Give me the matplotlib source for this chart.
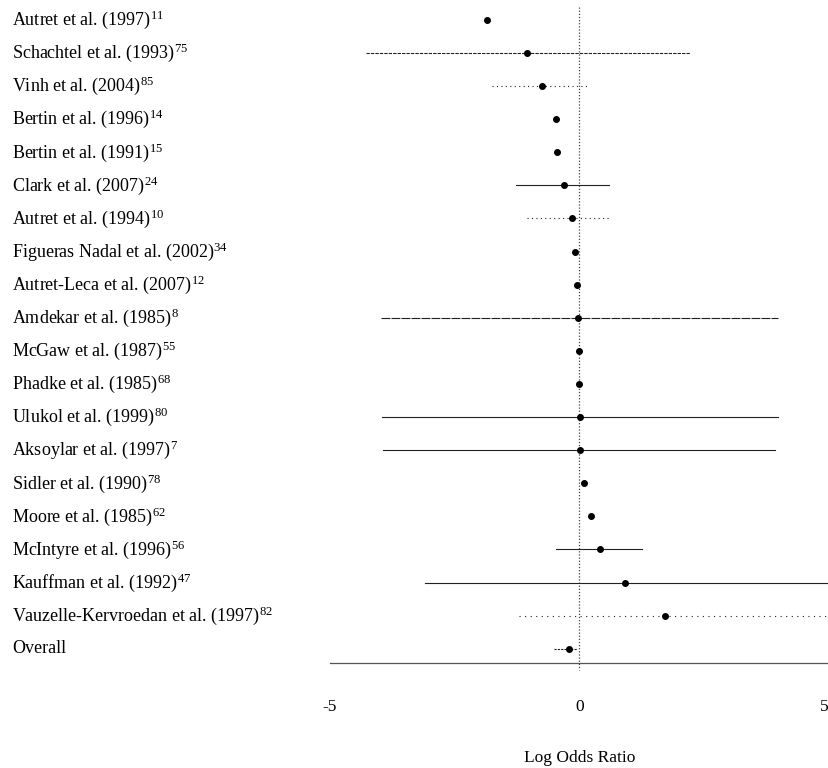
import numpy as np
import matplotlib
matplotlib.use("Agg")
import matplotlib.pyplot as plt
import matplotlib.transforms as mtransforms

plt.rcParams['font.family'] = ['Liberation Serif', 'DejaVu Serif']
plt.rcParams['mathtext.fontset'] = 'custom'
plt.rcParams['mathtext.rm'] = 'Liberation Serif'
plt.rcParams['mathtext.default'] = 'rm'

# study labels and reference numbers
studies = ["Autret et al. (1997)", "Schachtel et al. (1993)", "Vinh et al. (2004)",
           "Bertin et al. (1996)", "Bertin et al. (1991)", "Clark et al. (2007)",
           "Autret et al. (1994)", "Figueras Nadal et al. (2002)", "Autret-Leca et al. (2007)",
           "Amdekar et al. (1985)", "McGaw et al. (1987)", "Phadke et al. (1985)",
           "Ulukol et al. (1999)", "Aksoylar et al. (1997)", "Sidler et al. (1990)",
           "Moore et al. (1985)", "McIntyre et al. (1996)", "Kauffman et al. (1992)",
           "Vauzelle-Kervroedan et al. (1997)", "Overall"]
refs = ["11", "75", "85", "14", "15", "24", "10", "34", "12", "8",
        "55", "68", "80", "7", "78", "62", "56", "47", "82", ""]

# log odds ratio and confidence limits (nan = no interval drawn)
log_or = [-1.86, -1.06, -0.76, -0.48, -0.46, -0.32, -0.16, -0.10, -0.06, -0.04,
          -0.02, 0.00, 0.02, 0.02, 0.10, 0.24, 0.42, 0.92, 1.72, -0.22]
ci_low = [np.nan, -4.28, -1.76, np.nan, np.nan, -1.28, -1.06, np.nan, np.nan, -3.98,
          np.nan, np.nan, -3.96, -3.94, np.nan, np.nan, -0.48, -3.10, -1.22, -0.52]
ci_high = [np.nan, 2.22, 0.18, np.nan, np.nan, 0.60, 0.64, np.nan, np.nan, 3.98,
           np.nan, np.nan, 3.98, 3.92, np.nan, np.nan, 1.26, 5.0, 5.0, -0.05]
line_styles = ['-', (0, (3, 1)), (0, (1, 3)), '-', '-', '-', (0, (1, 3)), '-', '-', (0, (8, 1)),
               '-', '-', '-', '-', '-', '-', '-', '-', (0, (1, 4)), (0, (2, 1))]

fig = plt.figure(figsize=(8.29, 7.68), dpi=100)
ax = fig.add_axes([330 / 829, 1 - 663 / 768, 1 - 330 / 829, (663 - 5) / 768])

n = len(studies)
ys = np.arange(n)

# zero line
ax.plot([0, 0], [-0.4, 19.65], color='#444444', lw=0.9, ls=(0, (1, 1.5)), clip_on=False, zorder=1)

for i in range(n):
    if not np.isnan(ci_low[i]):
        ax.plot([ci_low[i], ci_high[i]], [ys[i], ys[i]], color='#222222', lw=0.8,
                ls=line_styles[i], zorder=2)
    ax.plot(log_or[i], ys[i], marker='o', color='black', markersize=4, zorder=3)

ax.set_xlim(-5, 5)
ax.set_ylim(19.43, -0.45)
ax.set_yticks([])
ax.set_xticks([-5, 0, 5])
ax.set_xticklabels(['-5', '0', '5'], fontsize=12.5)
ax.get_xticklabels()[-1].set_ha('right')
ax.tick_params(axis='x', length=0, pad=26)
for s in ['top', 'right', 'left']:
    ax.spines[s].set_visible(False)
ax.spines['bottom'].set_color('#555555')
ax.spines['bottom'].set_linewidth(0.9)
ax.set_xlabel('Log Odds Ratio', fontsize=12.5, labelpad=25)

trans = mtransforms.blended_transform_factory(fig.transFigure, ax.transData)
for i in range(n):
    txt = studies[i]
    if refs[i]:
        txt = txt + '$^{' + refs[i] + '}$'
    ax.text(12 / 829, ys[i], txt, transform=trans, ha='left', va='center', fontsize=13)

fig.savefig('out.png', dpi=100)
